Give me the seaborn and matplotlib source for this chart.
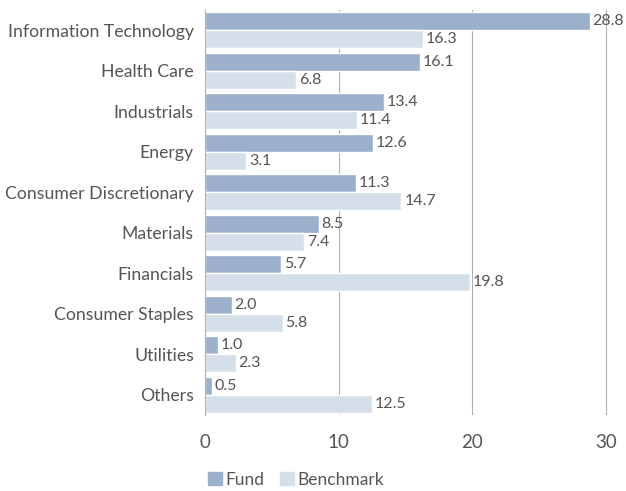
import matplotlib
matplotlib.use("Agg")
import matplotlib.pyplot as plt
import pandas as pd
import seaborn as sns

sectors = ["Information Technology", "Health Care", "Industrials", "Energy",
           "Consumer Discretionary", "Materials", "Financials",
           "Consumer Staples", "Utilities", "Others"]
fund = [28.8, 16.1, 13.4, 12.6, 11.3, 8.5, 5.7, 2.0, 1.0, 0.5]
benchmark = [16.3, 6.8, 11.4, 3.1, 14.7, 7.4, 19.8, 5.8, 2.3, 12.5]
x_ticks = [0, 10, 20, 30]

FUND_COLOR = "#9bb0ca"
BENCH_COLOR = "#d5dfea"
TEXT_COLOR = "#555555"
GRID_COLOR = "#b0b0b0"

sns.set_theme(style="white")
plt.rcParams["font.family"] = ["Lato", "DejaVu Sans"]

df = pd.DataFrame({
    "sector": sectors * 2,
    "value": fund + benchmark,
    "series": ["Fund"] * len(sectors) + ["Benchmark"] * len(sectors),
})

fig = plt.figure(figsize=(6.26, 4.91), dpi=100)
ax = fig.add_axes([205 / 626, 1 - 415 / 491, 1 - 205 / 626, (415 - 10) / 491])

sns.barplot(data=df, y="sector", x="value", hue="series", orient="h",
            palette=[FUND_COLOR, BENCH_COLOR], saturation=1, width=0.9,
            ax=ax, legend=False)

for cont in ax.containers:
    ax.bar_label(cont, fmt="%.1f", padding=2, fontsize=11.5, color=TEXT_COLOR)

ax.set_xlim(0, 31.5)
ax.set_xticks(x_ticks)
ax.xaxis.grid(True, color=GRID_COLOR, linewidth=0.8)
ax.set_axisbelow(True)
ax.set_xlabel("")
ax.set_ylabel("")
for side in ["top", "right", "bottom"]:
    ax.spines[side].set_visible(False)
ax.spines["left"].set_color(GRID_COLOR)
ax.spines["left"].set_linewidth(0.8)
ax.tick_params(axis="x", length=12, width=0.8, color=GRID_COLOR,
               labelsize=13.5, labelcolor=TEXT_COLOR, pad=2)
ax.tick_params(axis="y", length=0, labelsize=12.7, labelcolor=TEXT_COLOR, pad=8)

handles = [plt.Rectangle((0, 0), 1, 1, color=FUND_COLOR),
           plt.Rectangle((0, 0), 1, 1, color=BENCH_COLOR)]
fig.legend(handles, ["Fund", "Benchmark"], loc="lower left",
           bbox_to_anchor=(192 / 626, -0.025), ncol=2, frameon=False,
           fontsize=12.5, labelcolor=TEXT_COLOR, handlelength=0.8,
           handleheight=0.8, handletextpad=0.2, columnspacing=0.9)

fig.savefig("out.png", dpi=100)
